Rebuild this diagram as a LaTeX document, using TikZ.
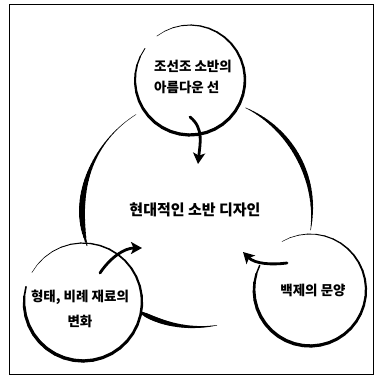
\documentclass[tikz,border=0pt]{standalone}
\usepackage{fontspec}
\newfontfamily\kr{Noto Sans CJK KR}
\usetikzlibrary{calc,arrows.meta}

% tapered brush stroke along a circle arc
% #1 centre, #2 radius, #3 from, #4 to, #5 max width, #6 peak exponent
\newcommand{\brusharc}[6]{%
  \foreach \k in {1,...,36} {
    \pgfmathsetmacro\aa{#3+(#4-#3)*(\k-1)/36}
    \pgfmathsetmacro\bb{#3+(#4-#3)*\k/36}
    \pgfmathsetmacro\ww{0.4+#5*sin(180*((\k-0.5)/36)^#6)}
    \draw[line width=\ww pt,line cap=round] ($(#1)+(\aa:#2)$) -- ($(#1)+(\bb:#2)$);
  }}

\begin{document}
\begin{tikzpicture}[x=1pt,y=1pt]
    \tikzset{label/.style = {font=\kr\bfseries\fontsize{13.5}{21}\selectfont,inner sep=0pt},
             brush/.style = {line width=2.8pt,line cap=round,-{Stealth[length=11pt,width=12pt,inset=2.5pt]}}}
    \useasboundingbox (0,0) rectangle (376,376);
    \draw[line width=0.8pt] (9,2) rectangle (373,372);
    % circle centres
    \coordinate (mid) at (197,164);
    \coordinate (top) at (190,296);
    \coordinate (left) at (83,74);
    \coordinate (right) at (310,86);
    % big circle, in three strokes
    \brusharc{mid}{115}{122}{197}{5.5}{2.4}
    \brusharc{mid}{115}{241}{280}{4.2}{0.43}
    \brusharc{mid}{115}{-9}{65}{4}{1}
    % small circles
    \brusharc{top}{55}{145}{487}{2.8}{0.7}
    \brusharc{left}{59}{165}{510}{3}{0.46}
    \brusharc{right}{56}{154}{480}{3}{0.5}
    % texts
    \node[label,align=left] (toptext) at (193,299) {조선조 소반의\\아름다운 선};
    \node[label,font=\kr\bfseries\fontsize{15}{18}\selectfont] (midtext) at (195,166) {현대적인 소반 디자인};
    \node[label] (righttext) at (313,86) {백제의 문양};
    \node[label,align=center,font=\kr\bfseries\fontsize{13.5}{25}\selectfont] (lefttext) at (80,67) {형태, 비례 재료의\\변화};
    % arrows
    \coordinate (a1s) at (190,259);
    \coordinate (a1e) at (198,212);
    \draw[brush] (a1s) .. controls (204,248) and (200,232) .. (a1e);
    \coordinate (a2s) at (100,103);
    \coordinate (a2e) at (142,128);
    \draw[brush] (a2s) .. controls (110,118) and (124,128) .. (a2e);
    \coordinate (a3s) at (287,113);
    \coordinate (a3e) at (243,124);
    \draw[brush] (a3s) .. controls (272,111) and (255,112) .. (a3e);
\end{tikzpicture}
\end{document}
